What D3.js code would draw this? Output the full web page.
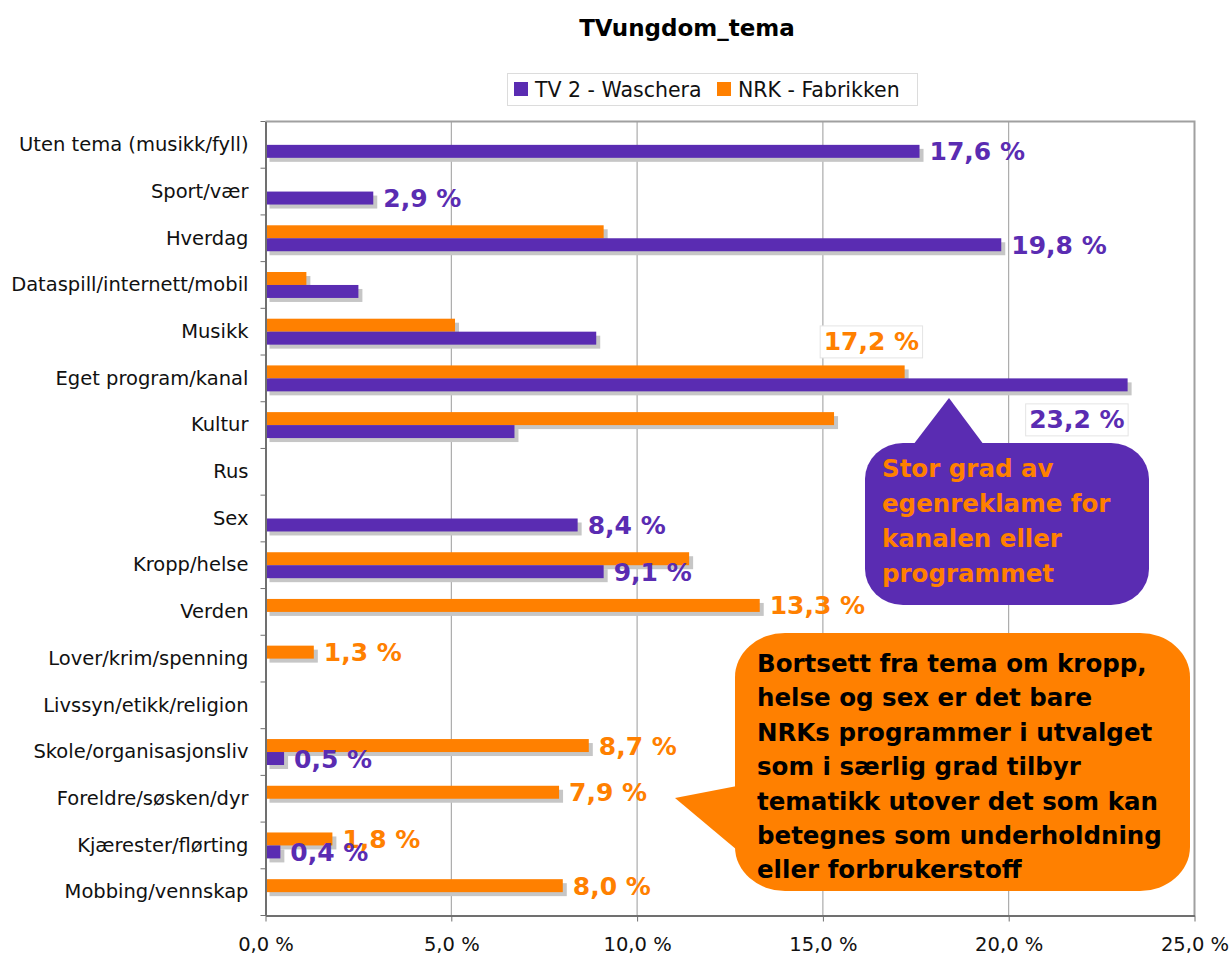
<!DOCTYPE html>
<html>
<head>
<meta charset="utf-8">
<script src="https://cdn.jsdelivr.net/npm/d3@7"></script>
<style>
  body { margin: 0; background: #fff; }
  svg { font-family: "DejaVu Sans", Verdana, sans-serif; }
</style>
</head>
<body>
<div id="chart"></div>
<script>
var width = 1232,
    height = 955;

var categories = ["Uten tema (musikk/fyll)", "Sport/vær", "Hverdag", "Dataspill/internett/mobil",
  "Musikk", "Eget program/kanal", "Kultur", "Rus", "Sex", "Kropp/helse", "Verden",
  "Lover/krim/spenning", "Livssyn/etikk/religion", "Skole/organisasjonsliv",
  "Foreldre/søsken/dyr", "Kjærester/flørting", "Mobbing/vennskap"];
var seriesNames = ["TV 2 - Waschera", "NRK - Fabrikken"];
var tv2Values = [17.6, 2.9, 19.8, 2.5, 8.9, 23.2, 6.7, 0, 8.4, 9.1, 0, 0, 0, 0.5, 0, 0.4, 0];
var nrkValues = [0, 0, 9.1, 1.1, 5.1, 17.2, 15.3, 0, 0, 11.4, 13.3, 1.3, 0, 8.7, 7.9, 1.8, 8.0];
// which bars carry a value label
var tv2Labelled = [1, 1, 1, 0, 0, 1, 0, 0, 1, 1, 0, 0, 0, 1, 0, 1, 0];
var nrkLabelled = [0, 0, 0, 0, 0, 1, 0, 0, 0, 0, 1, 1, 0, 1, 1, 1, 1];
var xTicks = [0, 5, 10, 15, 20, 25];

var note1 = ["Stor grad av", "egenreklame for", "kanalen eller", "programmet"];
var note2 = ["Bortsett fra tema om kropp,", "helse og sex er det bare",
  "NRKs programmer i utvalget", "som i særlig grad tilbyr",
  "tematikk utover det som kan", "betegnes som underholdning", "eller forbrukerstoff"];

var purple = "#5a2cb2",
    orange = "#ff8000";

var svg = d3.select("#chart").append("svg")
  .attr("width", width)
  .attr("height", height);

var x = d3.scaleLinear().domain([0, 25]).range([265.5, 1194.5]);
var y = d3.scaleBand().domain(categories).range([121.5, 915.5]).paddingInner(0).paddingOuter(0);
// NRK on top, TV 2 below in each band
var ySub = d3.scaleBand().domain(["nrk", "tv2"]).range([0, y.bandwidth()]).paddingInner(0).paddingOuter(0.8);

var fmt = function(v) { return v.toFixed(1).replace(".", ",") + " %"; };

// title
svg.append("text")
  .attr("x", 687).attr("y", 36)
  .attr("text-anchor", "middle")
  .style("font-size", "23px").style("font-weight", "bold")
  .text("TVungdom_tema");

// legend
var legend = svg.append("g");
legend.append("rect")
  .attr("x", 507.5).attr("y", 73.5).attr("width", 410).attr("height", 32)
  .attr("fill", "#fff").attr("stroke", "#dcdcdc");
var legendItems = [{name: seriesNames[0], color: purple, x: 514}, {name: seriesNames[1], color: orange, x: 717}];
legendItems.forEach(function(d) {
  legend.append("rect").attr("x", d.x).attr("y", 82).attr("width", 14).attr("height", 14).attr("fill", d.color);
  legend.append("text").attr("x", d.x + 21).attr("y", 97)
    .style("font-size", "20.5px").attr("fill", "#111").text(d.name);
});

// grid lines
svg.append("g").selectAll("line")
  .data(xTicks.slice(1, -1))
  .enter().append("line")
  .attr("x1", function(d) { return x(d); }).attr("x2", function(d) { return x(d); })
  .attr("y1", 121.5).attr("y2", 915.5)
  .attr("stroke", "#9a9a9a").attr("stroke-width", 1);

// plot border top/right
svg.append("path")
  .attr("d", "M" + x(0) + ",121.5H" + x(25) + "V915.5")
  .attr("fill", "none").attr("stroke", "#a0a0a0").attr("stroke-width", 2);

// bars
var rows = categories.map(function(c, i) {
  return [{cat: c, key: "nrk", value: nrkValues[i], label: nrkLabelled[i], color: orange, i: i},
          {cat: c, key: "tv2", value: tv2Values[i], label: tv2Labelled[i], color: purple, i: i}];
});
var bars = d3.merge(rows).filter(function(d) { return d.value > 0; });

svg.append("g").selectAll("rect")
  .data(bars)
  .enter().append("rect")
  .attr("x", x(0) + 4)
  .attr("y", function(d) { return y(d.cat) + ySub(d.key) + 4; })
  .attr("width", function(d) { return x(d.value) - x(0); })
  .attr("height", ySub.bandwidth())
  .attr("fill", "#c6c6c6");

svg.append("g").selectAll("rect")
  .data(bars)
  .enter().append("rect")
  .attr("x", x(0))
  .attr("y", function(d) { return y(d.cat) + ySub(d.key); })
  .attr("width", function(d) { return x(d.value) - x(0); })
  .attr("height", ySub.bandwidth())
  .attr("fill", function(d) { return d.color; });

// axes
var xAxis = svg.append("g")
  .attr("transform", "translate(0,915.5)")
  .call(d3.axisBottom(x).tickValues(xTicks).tickFormat(fmt).tickSize(6).tickPadding(16).tickSizeOuter(0));
xAxis.select(".domain").attr("stroke", "#707070").attr("stroke-width", 2);
xAxis.selectAll(".tick line").attr("stroke", "#707070");
xAxis.selectAll("text").style("font-size", "19.5px").attr("fill", "#111")
  .style("font-family", "DejaVu Sans, Verdana, sans-serif");

var yAxis = svg.append("g")
  .attr("transform", "translate(" + x(0) + ",0)")
  .call(d3.axisLeft(y).tickSize(0).tickPadding(17));
yAxis.select(".domain").attr("stroke", "#707070").attr("stroke-width", 2);
yAxis.selectAll("text").style("font-size", "19.5px").attr("fill", "#111")
  .style("font-family", "DejaVu Sans, Verdana, sans-serif");

// category boundary ticks
svg.append("g").selectAll("line")
  .data(d3.range(categories.length + 1))
  .enter().append("line")
  .attr("x1", x(0) - 5).attr("x2", x(0))
  .attr("y1", function(d) { return 121.5 + d * y.step(); })
  .attr("y2", function(d) { return 121.5 + d * y.step(); })
  .attr("stroke", "#707070");

// value labels
var labelled = bars.filter(function(d) { return d.label; });
var labels = svg.append("g").selectAll("g")
  .data(labelled)
  .enter().append("g");

labels.each(function(d) {
  var g = d3.select(this);
  var barTop = y(d.cat) + ySub(d.key);
  var tx = x(d.value) + 10, ty = barTop + ySub.bandwidth() / 2 + 9, anchor = "start", boxed = false;
  if (d.i === 5 && d.key === "nrk") { tx = x(d.value) - 81; ty = barTop - 15; boxed = true; }
  if (d.i === 5 && d.key === "tv2") { tx = x(d.value) - 3; ty = barTop + 50; anchor = "end"; boxed = true; }
  var t = g.append("text")
    .attr("x", tx).attr("y", ty)
    .attr("text-anchor", anchor)
    .style("font-size", "25px").style("font-weight", "bold")
    .attr("fill", d.color)
    .text(fmt(d.value));
  if (boxed) {
    var b = t.node().getBBox();
    g.insert("rect", "text")
      .attr("x", b.x - 3.5).attr("y", b.y - 1.5)
      .attr("width", b.width + 7).attr("height", b.height + 3)
      .attr("fill", "#fff").attr("stroke", "#e4e4e4");
  }
});

// callout 1
var c1 = svg.append("g");
c1.append("rect")
  .attr("x", 865).attr("y", 443).attr("width", 284).attr("height", 162)
  .attr("rx", 38).attr("ry", 36).attr("fill", purple);
c1.append("path")
  .attr("d", "M913,445L949,398L984,445Z").attr("fill", purple);
c1.selectAll("text")
  .data(note1)
  .enter().append("text")
  .attr("x", 882)
  .attr("y", function(d, i) { return 477 + i * 35; })
  .style("font-size", "24.5px").style("font-weight", "bold")
  .attr("fill", orange)
  .text(function(d) { return d; });

// callout 2
var c2 = svg.append("g");
c2.append("rect")
  .attr("x", 735).attr("y", 633).attr("width", 455).attr("height", 258)
  .attr("rx", 50).attr("ry", 44).attr("fill", orange);
c2.append("path")
  .attr("d", "M737,786L675,798L737,850Z").attr("fill", orange);
c2.selectAll("text")
  .data(note2)
  .enter().append("text")
  .attr("x", 757)
  .attr("y", function(d, i) { return 672 + i * 34.4; })
  .style("font-size", "24.5px").style("font-weight", "bold")
  .attr("fill", "#000")
  .text(function(d) { return d; });
</script>
</body>
</html>
